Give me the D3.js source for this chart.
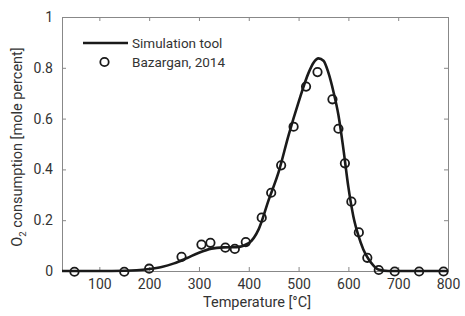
<!DOCTYPE html>
<html lang="en">
<head>
    <meta charset="UTF-8">
    <title>O2 consumption</title>
    <style>
        body { margin: 0; background: #fff; }
        text { font-family: Roboto, "Liberation Sans", sans-serif; fill: #333; }
    </style>
</head>
<body>
<script src="https://d3js.org/d3.v7.min.js"></script>
<script>
    // simulation curve (temperature, O2 consumption)
    var simTemp = [25, 50, 100, 150, 175, 200, 225, 250, 275, 300, 325, 350, 375, 400, 420, 440, 460, 480, 500, 520, 530, 540, 550, 560, 570, 580, 590, 600, 610, 620, 630, 640, 650, 660, 680, 700, 750, 800];
    var simO2 = [0, 0, 0, 0.001, 0.003, 0.008, 0.016, 0.03, 0.05, 0.072, 0.088, 0.093, 0.094, 0.11, 0.165, 0.28, 0.39, 0.535, 0.665, 0.78, 0.82, 0.837, 0.828, 0.78, 0.706, 0.614, 0.48, 0.33, 0.215, 0.14, 0.085, 0.048, 0.022, 0.006, 0, 0, 0, 0];

    // experimental points (Bazargan, 2014)
    var expTemp = [50, 150, 200, 265, 305, 323, 353, 372, 394, 426, 445, 465, 490, 515, 538, 568, 580, 593, 606, 621, 638, 661, 693, 742, 791];
    var expO2 = [-0.003, -0.003, 0.009, 0.056, 0.104, 0.111, 0.092, 0.087, 0.114, 0.21, 0.308, 0.416, 0.568, 0.726, 0.783, 0.676, 0.56, 0.424, 0.273, 0.152, 0.052, 0.004, -0.002, -0.002, -0.002];

    var xTicks = [100, 200, 300, 400, 500, 600, 700, 800];
    var yTicks = [0, 0.2, 0.4, 0.6, 0.8, 1];
    var legendLabels = ["Simulation tool", "Bazargan, 2014"];

    const margin = {top: 17, right: 17, bottom: 45, left: 62};
    const width = 465 - margin.left - margin.right;
    const height = 316 - margin.top - margin.bottom;

    var svg = d3.select('body')
        .append("svg")
        .attr("width", 465)
        .attr("height", 316)
        .append("g")
        .attr("transform", "translate(" + margin.left + "," + margin.top + ")");

    var x = d3.scaleLinear().domain([25, 800]).range([0, width]);
    var y = d3.scaleLinear().domain([0, 1]).range([height, 0]);

    // axes with inward ticks on all four sides
    function styleAxis(g) {
        g.selectAll("path").attr("stroke", "#888");
        g.selectAll("line").attr("stroke", "#888");
    }
    var xb = svg.append("g")
        .attr("transform", "translate(0," + height + ")")
        .call(d3.axisBottom(x).tickValues(xTicks).tickSizeInner(-4).tickSizeOuter(0).tickPadding(8));
    xb.call(styleAxis);
    xb.selectAll("text").attr("font-size", 14).attr("fill", "#333");

    svg.append("g")
        .call(d3.axisTop(x).tickValues(xTicks).tickSizeInner(-4).tickSizeOuter(0).tickFormat(""))
        .call(styleAxis);

    var yl = svg.append("g")
        .call(d3.axisLeft(y).tickValues(yTicks).tickSizeInner(-4).tickSizeOuter(0).tickPadding(9)
            .tickFormat(d3.format("~g")));
    yl.call(styleAxis);
    yl.selectAll("text").attr("font-size", 14).attr("fill", "#333");

    svg.append("g")
        .attr("transform", "translate(" + width + ",0)")
        .call(d3.axisRight(y).tickValues(yTicks).tickSizeInner(-4).tickSizeOuter(0).tickFormat(""))
        .call(styleAxis);

    // axis titles
    svg.append("text")
        .attr("x", 257 - margin.left)
        .attr("y", height + 36)
        .attr("text-anchor", "middle")
        .attr("font-size", 14.5)
        .text("Temperature [°C]");

    var yt = svg.append("text")
        .attr("transform", "translate(-40," + (height / 2 + 3) + ") rotate(-90)")
        .attr("text-anchor", "middle")
        .attr("font-size", 14.5);
    yt.append("tspan").text("O");
    yt.append("tspan").attr("font-size", 9.5).attr("dy", 4).text("2");
    yt.append("tspan").attr("dy", -4).text(" consumption [mole percent]");

    // simulation line
    var simData = simTemp.map(function (t, i) { return {x: t, y: simO2[i]}; });
    svg.append("path")
        .datum(simData)
        .attr("fill", "none")
        .attr("stroke", "#1a1a1a")
        .attr("stroke-width", 2.6)
        .attr("d", d3.line()
            .curve(d3.curveMonotoneX)
            .x(function (d) { return x(d.x); })
            .y(function (d) { return y(d.y); }));

    // experimental circles
    var expData = expTemp.map(function (t, i) { return {x: t, y: expO2[i]}; });
    svg.selectAll("circle.exp")
        .data(expData)
        .enter()
        .append("circle")
        .attr("class", "exp")
        .attr("cx", function (d) { return x(d.x); })
        .attr("cy", function (d) { return y(d.y); })
        .attr("r", 4.2)
        .attr("fill", "none")
        .attr("stroke", "#1a1a1a")
        .attr("stroke-width", 1.8);

    // legend
    var leg = svg.append("g").attr("transform", "translate(21,26)");
    leg.append("line")
        .attr("x1", 0).attr("x2", 45)
        .attr("y1", 0).attr("y2", 0)
        .attr("stroke", "#1a1a1a")
        .attr("stroke-width", 2.6);
    leg.append("circle")
        .attr("cx", 21.5).attr("cy", 19)
        .attr("r", 4.2)
        .attr("fill", "none")
        .attr("stroke", "#1a1a1a")
        .attr("stroke-width", 1.8);
    leg.selectAll("text.leg")
        .data(legendLabels)
        .enter()
        .append("text")
        .attr("class", "leg")
        .attr("x", 49)
        .attr("y", function (d, i) { return 5 + i * 18.5; })
        .attr("font-size", 13.5)
        .text(function (d) { return d; });
</script>
</body>
</html>
